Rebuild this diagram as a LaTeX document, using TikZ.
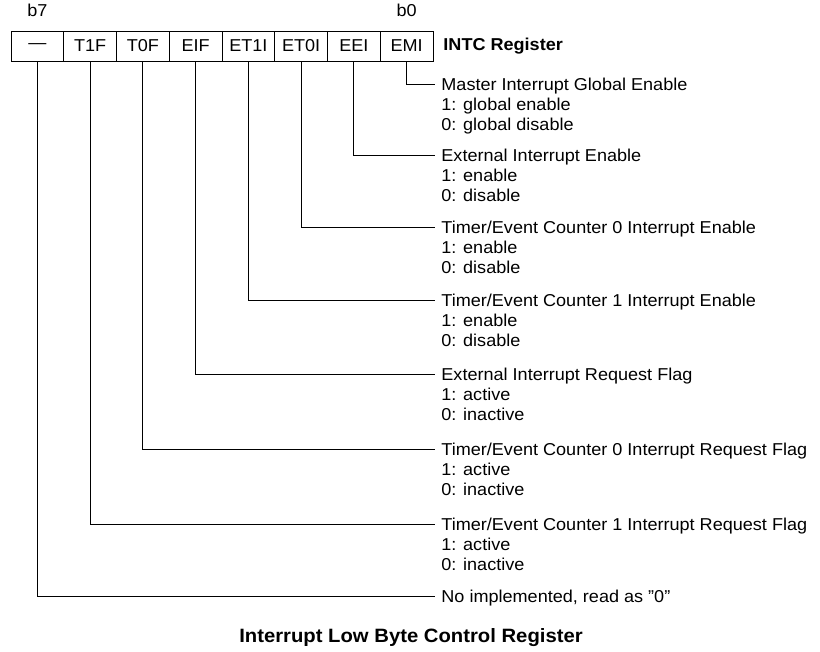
\documentclass[tikz,border=0pt]{standalone}
\usepackage{fontspec}
\setmainfont{Liberation Sans}[FakeStretch=1.05]
\begin{document}
\begin{tikzpicture}[x=1pt,y=-1pt,
  line width=0.9pt,
  cell/.style={draw, minimum width=52.75pt, minimum height=30pt, inner sep=0pt, font=\fontsize{17.2}{19}\selectfont},
  lbl/.style={anchor=base west, inner sep=0pt, font=\fontsize{17.2}{19}\selectfont},
  bit/.style={inner sep=0pt, font=\fontsize{17.2}{19}\selectfont},
  conn/.style={line width=0.9pt}]
\useasboundingbox (0,0) rectangle (820,652);
% register cells
\foreach \i/\t in {0/EMI,1/EEI,2/ET0I,3/ET1I,4/EIF,5/T0F,6/T1F,7/{—}}{
  \node[cell] (c\i) at ({406.6-52.75*\i},46) {\t};
}
\node[bit] (b7) at (37.5,10) {b7};
\node[bit] (b0) at (406.6,10) {b0};
\node[lbl, anchor=west, font=\fontsize{17.2}{19}\selectfont\bfseries] (reg) at (443,46) {INTC Register};
% descriptions
\foreach \i/\y/\a/\b/\c in {
  0/84/{Master Interrupt Global Enable}/{1: global enable}/{0: global disable},
  1/155/{External Interrupt Enable}/{1: enable}/{0: disable},
  2/227/{Timer/Event Counter 0 Interrupt Enable}/{1: enable}/{0: disable},
  3/300/{Timer/Event Counter 1 Interrupt Enable}/{1: enable}/{0: disable},
  4/374/{External Interrupt Request Flag}/{1: active}/{0: inactive},
  5/449/{Timer/Event Counter 0 Interrupt Request Flag}/{1: active}/{0: inactive},
  6/524/{Timer/Event Counter 1 Interrupt Request Flag}/{1: active}/{0: inactive}}{
  \coordinate (e\i) at (434.5,\y);
  \node[lbl] (d\i) at (441,\y+6.1) {\a};
  \node[lbl] (d\i a) at (441,\y+6.1+20.3) {\b};
  \node[lbl] (d\i b) at (441,\y+6.1+40.6) {\c};
  \draw[conn] (c\i.south) |- (e\i);
}
\coordinate (e7) at (434.5,596);
\node[lbl] (d7) at (441,596+6.1) {No implemented, read as \char"0022 0\char"0022};
\draw[conn] (c7.south) |- (e7);
% title
\node[bit, font=\fontsize{19.3}{22}\selectfont\bfseries] (title) at (411,638) {Interrupt Low Byte Control Register};
\end{tikzpicture}
\end{document}
